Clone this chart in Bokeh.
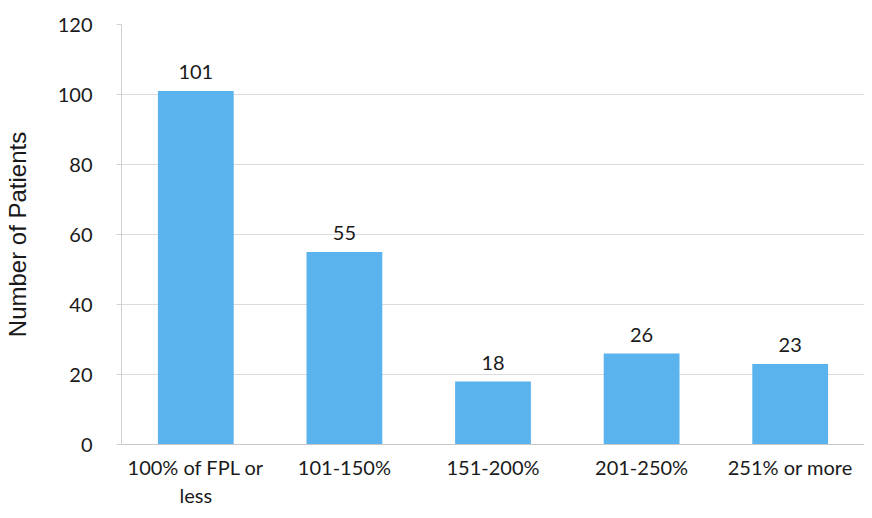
from bokeh.plotting import figure
from bokeh.models import ColumnDataSource, Range1d, FactorRange, LabelSet, FixedTicker
from bokeh.core.properties import value
from bokeh.embed import file_html
from bokeh.resources import INLINE

categories = ["100% of FPL or\nless", "101-150%", "151-200%", "201-250%", "251% or more"]
patients = [101, 55, 18, 26, 23]
y_ticks = [0, 20, 40, 60, 80, 100, 120]

source = ColumnDataSource(data=dict(cat=categories, val=patients, lbl=[str(v) for v in patients]))

p = figure(x_range=FactorRange(*categories, range_padding=0), y_range=Range1d(0, 120),
           width=864, height=510, output_backend="svg", toolbar_location=None,
           min_border_left=120, min_border_right=0, min_border_top=24, min_border_bottom=65)
p.outline_line_color = None
p.background_fill_color = "white"
p.border_fill_color = "white"

p.vbar(x="cat", top="val", width=0.51, source=source, fill_color="#5AB3EC", line_color=None)

labels = LabelSet(x="cat", y="val", text="lbl", source=source, text_align="center",
                  text_baseline="bottom", y_offset=12, text_font=value("Lato"),
                  text_font_size=value("20px"), text_color="#1a1a1a")
p.add_layout(labels)

p.yaxis.ticker = FixedTicker(ticks=y_ticks)
p.yaxis.axis_line_color = "#D0D0D0"
p.yaxis.major_tick_line_color = "#D0D0D0"
p.yaxis.major_tick_in = 0
p.yaxis.major_tick_out = 5
p.yaxis.minor_tick_line_color = None
p.yaxis.major_label_standoff = 24
p.yaxis.major_label_text_font = "Lato"
p.yaxis.major_label_text_font_size = "20px"
p.yaxis.major_label_text_color = "#1a1a1a"
p.yaxis.axis_label = "Number of Patients"
p.yaxis.axis_label_text_font = "Liberation Sans"
p.yaxis.axis_label_text_font_size = "24px"
p.yaxis.axis_label_text_font_style = "normal"
p.yaxis.axis_label_text_color = "#1a1a1a"
p.yaxis.axis_label_standoff = 24

p.xaxis.axis_line_color = "#C8C8C8"
p.xaxis.major_tick_line_color = None
p.xaxis.major_label_standoff = 4
p.xaxis.major_label_text_font = "Lato"
p.xaxis.major_label_text_font_size = "20px"
p.xaxis.major_label_text_color = "#1a1a1a"

p.xgrid.grid_line_color = None
p.ygrid.grid_line_color = "#DCDCDC"
p.ygrid.grid_line_width = 1

open("out.html", "w").write(file_html(p, INLINE))
